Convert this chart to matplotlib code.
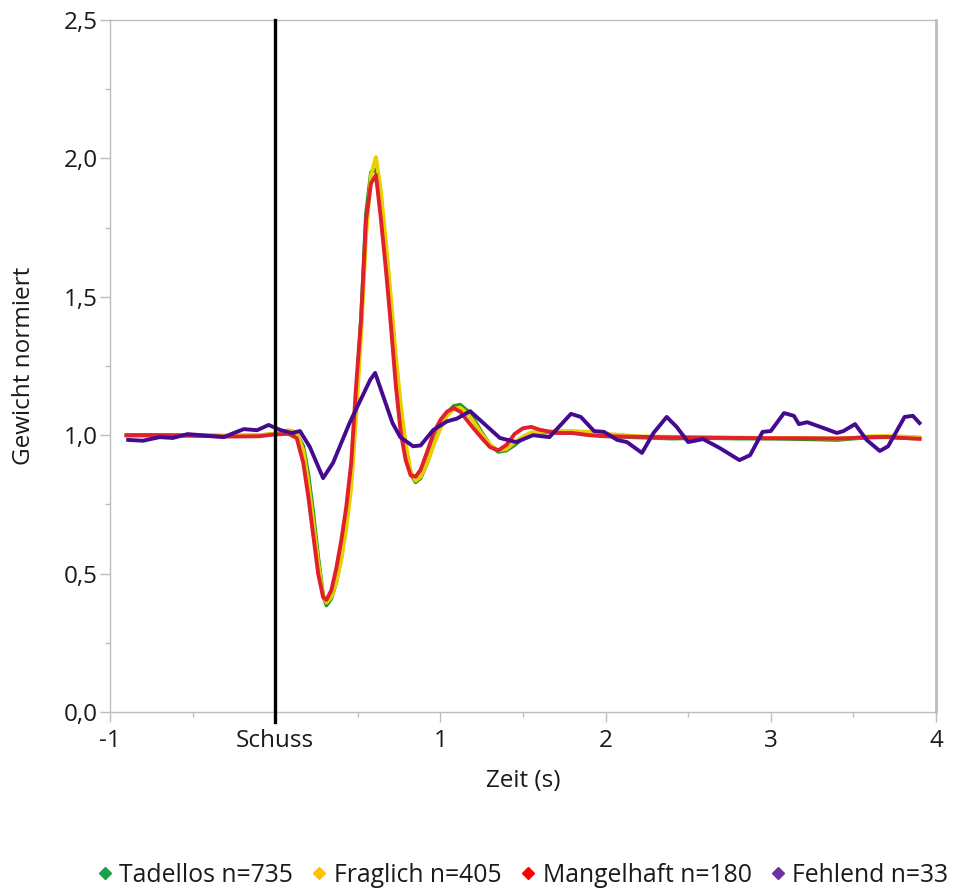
import matplotlib
matplotlib.use("Agg")
import matplotlib.pyplot as plt
from matplotlib.ticker import FixedLocator, MultipleLocator, FuncFormatter
from matplotlib.lines import Line2D

plt.rcParams['font.family'] = ['Open Sans', 'DejaVu Sans']

# Time axis (s) shared by the three large groups
t_main = [-0.90, -0.70, -0.50, -0.30, -0.10, 0.00, 0.08, 0.13, 0.17, 0.20,
          0.23, 0.26, 0.29, 0.31, 0.34, 0.37, 0.40, 0.43, 0.46, 0.49,
          0.52, 0.55, 0.58, 0.61, 0.64, 0.67, 0.70, 0.73, 0.76, 0.79,
          0.82, 0.85, 0.88, 0.92, 0.96, 1.00, 1.04, 1.08, 1.12, 1.16,
          1.20, 1.25, 1.30, 1.35, 1.40, 1.45, 1.50, 1.55, 1.60, 1.70,
          1.80, 1.90, 2.00, 2.20, 2.40, 2.60, 2.80, 3.00, 3.20, 3.40,
          3.50, 3.60, 3.70, 3.80, 3.90]

tadellos = [1.000, 1.000, 1.000, 0.998, 0.999, 1.005, 1.008, 1.005, 0.960, 0.860,
            0.720, 0.560, 0.420, 0.385, 0.410, 0.470, 0.560, 0.690, 0.850, 1.130,
            1.420, 1.800, 1.950, 1.960, 1.840, 1.650, 1.450, 1.250, 1.080, 0.950,
            0.860, 0.830, 0.845, 0.900, 0.970, 1.030, 1.080, 1.105, 1.110, 1.090,
            1.060, 1.010, 0.965, 0.940, 0.945, 0.965, 0.990, 1.005, 1.010, 1.010,
            1.008, 1.005, 0.998, 0.992, 0.988, 0.990, 0.988, 0.988, 0.986, 0.983,
            0.988, 0.992, 0.993, 0.990, 0.988]

fraglich = [0.998, 0.998, 0.998, 0.997, 1.000, 1.005, 1.018, 1.010, 0.945, 0.830,
            0.690, 0.540, 0.420, 0.395, 0.415, 0.470, 0.550, 0.660, 0.810, 1.070,
            1.360, 1.720, 1.940, 2.005, 1.880, 1.700, 1.500, 1.290, 1.110, 0.970,
            0.870, 0.835, 0.850, 0.900, 0.965, 1.025, 1.070, 1.095, 1.100, 1.080,
            1.050, 1.005, 0.965, 0.945, 0.950, 0.975, 0.995, 1.010, 1.012, 1.015,
            1.015, 1.012, 1.005, 0.996, 0.994, 0.993, 0.991, 0.990, 0.990, 0.988,
            0.990, 0.996, 0.997, 0.995, 0.992]

mangelhaft = [1.000, 1.000, 0.998, 0.995, 0.996, 1.003, 1.005, 0.990, 0.900, 0.780,
              0.640, 0.500, 0.415, 0.405, 0.440, 0.520, 0.620, 0.740, 0.900, 1.180,
              1.420, 1.780, 1.910, 1.940, 1.780, 1.600, 1.400, 1.180, 1.010, 0.910,
              0.855, 0.850, 0.875, 0.940, 1.010, 1.055, 1.085, 1.098, 1.085, 1.055,
              1.025, 0.990, 0.957, 0.945, 0.965, 1.005, 1.025, 1.030, 1.020, 1.008,
              1.008, 1.000, 0.996, 0.994, 0.992, 0.991, 0.990, 0.989, 0.989, 0.988,
              0.990, 0.993, 0.994, 0.990, 0.987]

# Small group, own time axis
t_fehlend = [-0.89, -0.80, -0.70, -0.62, -0.53, -0.45, -0.31, -0.25, -0.19, -0.11,
             -0.04, 0.03, 0.10, 0.15, 0.21, 0.29, 0.35, 0.45, 0.575, 0.605,
             0.71, 0.757, 0.835, 0.88, 0.957, 1.04, 1.10, 1.18, 1.26, 1.36,
             1.46, 1.56, 1.66, 1.79, 1.85, 1.93, 1.99, 2.07, 2.13, 2.22,
             2.29, 2.37, 2.43, 2.50, 2.59, 2.69, 2.81, 2.875, 2.95, 3.00,
             3.08, 3.14, 3.17, 3.22, 3.30, 3.40, 3.44, 3.51, 3.58, 3.66,
             3.71, 3.81, 3.86, 3.90]
fehlend = [0.983, 0.980, 0.993, 0.990, 1.004, 1.000, 0.993, 1.008, 1.022, 1.018,
           1.037, 1.019, 1.008, 1.015, 0.957, 0.845, 0.900, 1.044, 1.200, 1.225,
           1.044, 0.993, 0.960, 0.963, 1.019, 1.050, 1.060, 1.087, 1.044, 0.990,
           0.975, 1.000, 0.993, 1.077, 1.066, 1.015, 1.012, 0.983, 0.975, 0.936,
           1.008, 1.066, 1.030, 0.975, 0.986, 0.954, 0.910, 0.928, 1.012, 1.015,
           1.080, 1.070, 1.040, 1.047, 1.030, 1.008, 1.015, 1.040, 0.983, 0.943,
           0.960, 1.066, 1.070, 1.044]

labels = ["Tadellos n=735", "Fraglich n=405", "Mangelhaft n=180", "Fehlend n=33"]
line_colors = ["#1f9a2a", "#e8d000", "#e0202a", "#450a90"]
marker_colors = ["#1aa048", "#ffc000", "#ff0000", "#7030a0"]

x_ticks = [-1, 0, 1, 2, 3, 4]
x_tick_labels = ["-1", "Schuss", "1", "2", "3", "4"]

text_col = "#1a1a1a"
fs = 17.5

fig = plt.figure(figsize=(9.6, 8.88), dpi=100)
ax = fig.add_axes([110 / 960, 1 - 712 / 888, 826 / 960, 692 / 888])

series = [tadellos, fraglich, mangelhaft]
for vals, col in zip(series, line_colors[:3]):
    ax.plot(t_main, vals, color=col, lw=2.8, solid_joinstyle='round', zorder=3)
ax.plot(t_fehlend, fehlend, color=line_colors[3], lw=2.8,
        solid_joinstyle='round', zorder=4)

# Shot marker
ax.axvline(0, ymin=-10 / 692, ymax=1, color="black", lw=2.4, clip_on=False, zorder=5)

ax.set_xlim(-1, 4)
ax.set_ylim(0, 2.5)
ax.xaxis.set_major_locator(FixedLocator(x_ticks))
ax.set_xticklabels(x_tick_labels)
ax.xaxis.set_minor_locator(MultipleLocator(0.5))
ax.yaxis.set_major_locator(MultipleLocator(0.5))
ax.yaxis.set_minor_locator(MultipleLocator(0.25))
ax.yaxis.set_major_formatter(FuncFormatter(lambda v, p: f"{v:.1f}".replace(".", ",")))

spine_col = "#bdbdbd"
for name, sp in ax.spines.items():
    sp.set_color(spine_col)
    sp.set_linewidth(1.0)
ax.spines["right"].set_linewidth(2.0)

ax.tick_params(axis="both", which="major", direction="out", length=7, width=1.0,
               color=spine_col, labelsize=fs, labelcolor=text_col)
ax.tick_params(axis="x", which="major", pad=5)
ax.tick_params(axis="y", which="major", pad=2)
ax.tick_params(axis="both", which="minor", direction="out", length=3.5, width=1.0,
               color=spine_col)

ax.set_xlabel("Zeit (s)", fontsize=fs, color=text_col, labelpad=12)
ax.set_ylabel("Gewicht normiert", fontsize=fs, color=text_col, labelpad=20)

handles = [Line2D([0], [0], marker="D", linestyle="none", markersize=6,
                  markerfacecolor=c, markeredgecolor=c) for c in marker_colors]
fig.legend(handles, labels, loc="center", bbox_to_anchor=(0.542, 1 - 875 / 888),
           ncol=4, frameon=False, fontsize=17.8, handletextpad=0.1,
           columnspacing=0.55, handlelength=1.0, labelcolor=text_col,
           borderaxespad=0)

fig.savefig("out.png", dpi=100)
